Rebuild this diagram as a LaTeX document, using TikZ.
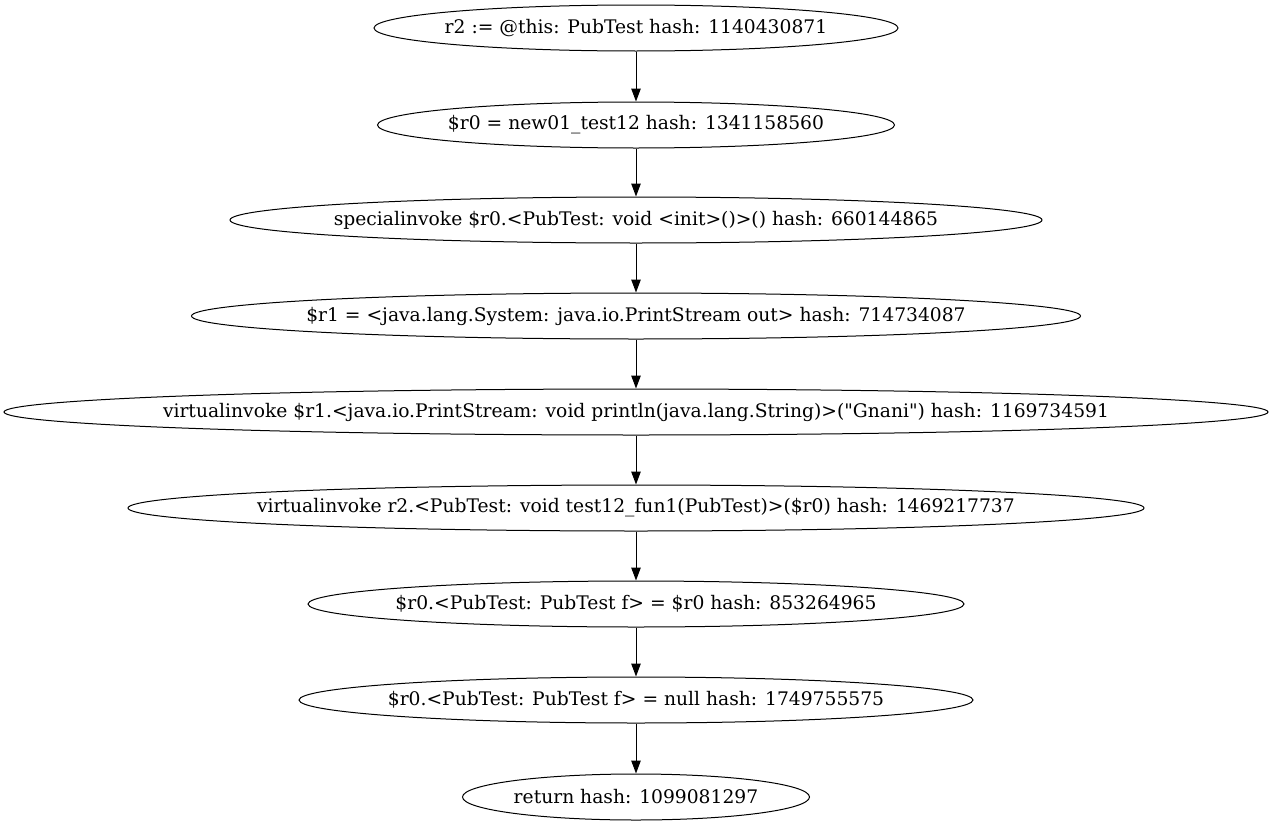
\documentclass[tikz,border=0pt]{standalone}
\usepackage{fontspec}
\setmainfont{DejaVu Serif}[Ligatures=TeXOff]
\usetikzlibrary{shapes.geometric,arrows.meta}
\begin{document}
\begin{tikzpicture}[x=1pt,y=-1pt,
  st/.style={draw,ellipse,inner xsep=-120pt,inner ysep=0pt,line width=1pt,minimum height=46pt,font=\fontsize{18.7}{21}\selectfont},
  ar/.style={-{Triangle[length=13pt,width=9.5pt]},line width=1pt}]
\useasboundingbox (0,0) rectangle (1272,827);
\node[st,minimum width=524pt] (n1) at (636,28) {r2 := @this: PubTest hash: 1140430871};
\node[st,minimum width=517pt] (n2) at (636,125) {\$r0 = new01\_test12 hash: 1341158560};
\node[st,minimum width=812pt] (n3) at (636,220) {specialinvoke \$r0.<PubTest: void <init>()>() hash: 660144865};
\node[st,minimum width=889pt] (n4) at (636,316) {\$r1 = <java.lang.System: java.io.PrintStream out> hash: 714734087};
\node[st,minimum width=1264pt] (n5) at (636,412) {virtualinvoke \$r1.<java.io.PrintStream: void println(java.lang.String)>("Gnani") hash: 1169734591};
\node[st,minimum width=1016pt] (n6) at (636,508) {virtualinvoke r2.<PubTest: void test12\_fun1(PubTest)>(\$r0) hash: 1469217737};
\node[st,minimum width=656pt] (n7) at (636,604) {\$r0.<PubTest: PubTest f> = \$r0 hash: 853264965};
\node[st,minimum width=674pt] (n8) at (636,700) {\$r0.<PubTest: PubTest f> = null hash: 1749755575};
\node[st,minimum width=347pt] (n9) at (636,797) {return hash: 1099081297};
\foreach \a/\b in {n1/n2,n2/n3,n3/n4,n4/n5,n5/n6,n6/n7,n7/n8,n8/n9}
  \draw[ar] (\a) -- (\b);
\end{tikzpicture}
\end{document}
